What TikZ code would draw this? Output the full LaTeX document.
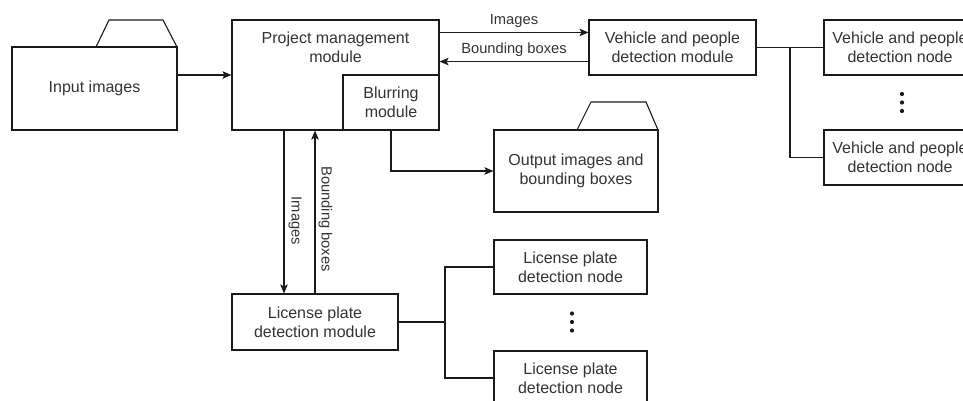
\documentclass[tikz,border=0pt]{standalone}
\usepackage{fontspec}
\setmainfont{Liberation Sans}
\usetikzlibrary{arrows.meta,calc}
\definecolor{txt}{HTML}{333333}
\definecolor{ln}{HTML}{1A1A1A}
\begin{document}
\begin{tikzpicture}[x=1pt,y=-1pt,
  line/.style={draw=ln, line width=1.1pt},
  arr/.style={line, -{Stealth[length=9pt,width=7.5pt,inset=2pt]}},
  box/.style={line, rectangle, inner sep=0pt, align=center, text=txt,
    font=\fontsize{16}{19}\selectfont},
  lbl/.style={inner sep=0pt, align=center, text=txt, font=\fontsize{16}{19}\selectfont},
  elbl/.style={inner sep=0pt, text=txt, font=\fontsize{14.7}{17}\selectfont},
  dot/.style={fill=ln, draw=none}]
\useasboundingbox (0,0) rectangle (963,401);
\clip (0,0) rectangle (963,401);

% Input images (folder)
\node[box, minimum width=165pt, minimum height=83pt] (in) at (94.5,88.5) {Input images};
\draw[line] (96,47) -- (109,20) -- (163,20) -- (177,47);

% Project management module
\node[box, minimum width=207pt, minimum height=110pt] (pm) at (335.5,75) {};
\node[lbl] (pmt) at (335.5,47.5) {Project management\\module};
\node[box, minimum width=96pt, minimum height=55pt] (blur) at (391,102.5) {Blurring\\module};

% Vehicle and people
\node[box, minimum width=167pt, minimum height=55pt] (vm) at (672.5,47.5) {Vehicle and people\\detection module};
\node[box, minimum width=152pt, minimum height=55pt] (vp1) at (900,47.5) {Vehicle and people\\detection node};
\node[box, minimum width=152pt, minimum height=55pt] (vp2) at (900,157.5) {Vehicle and people\\detection node};
\fill[dot] (902,94) circle (2.1) (902,102.5) circle (2.1) (902,111) circle (2.1);

% Output folder
\node[box, minimum width=164pt, minimum height=82pt] (out) at (576,171) {Output images and\\bounding boxes};
\draw[line] (577,130) -- (591,102) -- (646,102) -- (658,130);

% License plate
\node[box, minimum width=166pt, minimum height=56pt] (lp) at (315,322) {License plate\\detection module};
\node[box, minimum width=153pt, minimum height=54pt] (lp1) at (570.5,267) {License plate\\detection node};
\node[box, minimum width=153pt, minimum height=54pt] (lp2) at (570.5,378) {License plate\\detection node};
\fill[dot] (572,313.5) circle (2.1) (572,322) circle (2.1) (572,330.5) circle (2.1);

% connectors
\draw[arr] (in.east |- pm.west) -- (pm.west);
\draw[arr] ([yshift=-13pt]pm.north east) -- node[elbl, above=4pt] {Images} ([yshift=-13pt]vm.north west);
\draw[arr] ([yshift=14pt]vm.south west) -- node[elbl, above=4pt] {Bounding boxes} ([yshift=14pt]vm.south west -| pm.east);

\coordinate (vs) at (790,47.5);
\draw[line] (vm.east) -- (vs) -- (vp1.west);
\draw[line] (vs) |- (vp2.west);

\draw[arr] (blur.south) |- (out.west);

\draw[arr] ([xshift=-31pt]lp.north |- pm.south) -- node[elbl, rotate=-90, pos=0.555, above=4pt] {Images} ([xshift=-31pt]lp.north);
\draw[arr] (lp.north) -- node[elbl, rotate=-90, pos=0.457, above=3pt] {Bounding boxes} (lp.north |- pm.south);

\coordinate (ls) at (445,322);
\draw[line] (lp.east) -- (ls);
\draw[line] (ls) |- (lp1.west);
\draw[line] (ls) |- (lp2.west);
\end{tikzpicture}
\end{document}
